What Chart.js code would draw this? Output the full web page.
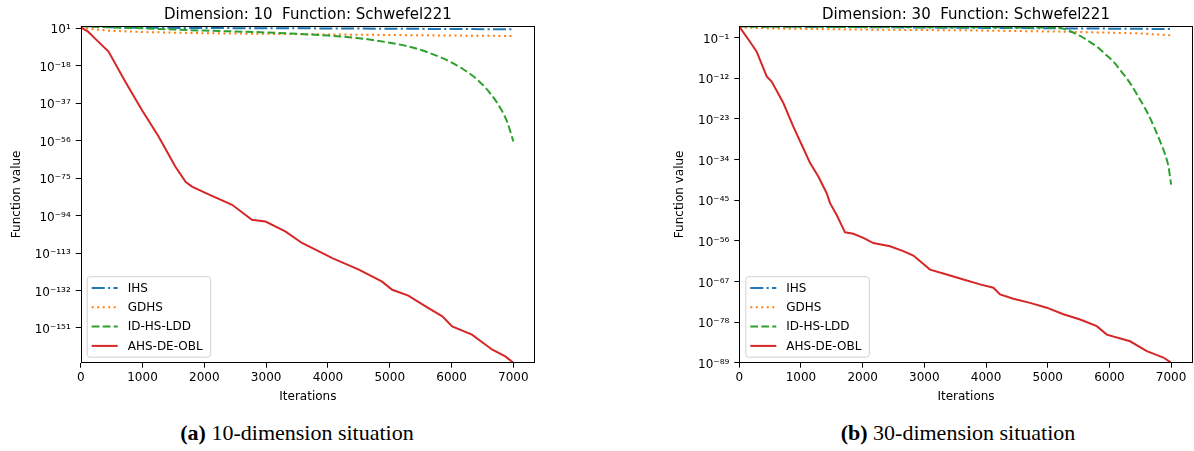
<!DOCTYPE html>
<html>
<head>
<meta charset="utf-8">
<script src="https://cdn.jsdelivr.net/npm/chart.js@4.4.0/dist/chart.umd.min.js"></script>
<style>
  body { margin: 0; background: #fff; }
  #wrap { position: relative; width: 1194px; height: 451px; background: #fff; overflow: hidden; }
  canvas { position: absolute; top: 0; }
  .cap { position: absolute; top: 421px; width: 400px; text-align: center; font-family: "Liberation Serif", serif; font-size: 22px; line-height: 24px; color: #000; }
</style>
</head>
<body>
<div id="wrap">
  <canvas id="chart10" width="545" height="410" style="left:0px"></canvas>
  <canvas id="chart30" width="534" height="410" style="left:660px"></canvas>
  <div class="cap" style="left:97px"><b>(a)</b> 10-dimension situation</div>
  <div class="cap" style="left:758px"><b>(b)</b> 30-dimension situation</div>
</div>
<script>
// Series names and tick labels
var seriesNames = ["IHS", "GDHS", "ID-HS-LDD", "AHS-DE-OBL"];
var xTicks = [0, 1000, 2000, 3000, 4000, 5000, 6000, 7000];
var yTicks10 = [1e1, 1e-18, 1e-37, 1e-56, 1e-75, 1e-94, 1e-113, 1e-132, 1e-151];
var yTicks30 = [1e-1, 1e-12, 1e-23, 1e-34, 1e-45, 1e-56, 1e-67, 1e-78, 1e-89];

// Dimension 10
var ihs10It = [0, 500, 1000, 2000, 3000, 4000, 5000, 6000, 7000];
var ihs10Val = [140, 32, 20, 14, 11, 9, 6.3, 4.5, 3.2];
var gdhs10It = [0, 100, 230, 450, 1000, 2000, 3000, 4000, 5000, 6000, 7000];
var gdhs10Val = [32, 10, 3.2, 0.63, 0.13, 0.032, 0.016, 7.9e-3, 4e-3, 2.2e-3, 1.3e-3];
var ldd10It = [0, 500, 1000, 1500, 2000, 2500, 3000, 3500, 4000, 4500, 5000, 5300, 5600, 5900, 6200, 6400, 6600, 6800, 6900, 7000];
var ldd10Val = [100, 32, 10, 2.5, 0.7, 0.25, 0.08, 0.016, 2e-3, 1e-4, 5e-7, 6.3e-9, 1e-11, 1.6e-15, 1e-20, 2.5e-25, 1e-31, 1e-40, 3.2e-47, 4e-57];
var obl10It = [0, 120, 230, 450, 720, 990, 1260, 1530, 1700, 1800, 2070, 2450, 2770, 2990, 3310, 3580, 3960, 4070, 4500, 4870, 5040, 5300, 5580, 5850, 6010, 6330, 6660, 6870, 7000];
var obl10Val = [32, 0.2, 7.9e-5, 1.6e-11, 1e-26, 4e-41, 1.3e-54, 7.9e-70, 1e-77, 5e-80, 6.3e-84, 3.2e-89, 7.9e-97, 1e-97, 1e-102, 1.3e-108, 1.6e-114, 2.5e-116, 4e-122, 4e-128, 2.5e-132, 2.5e-135, 1e-140, 7.9e-146, 6.3e-151, 4e-155, 1e-162, 4e-166, 2.5e-169];

// Dimension 30
var ihs30It = [0, 1000, 2000, 3000, 4000, 5000, 6000, 7000];
var ihs30Val = [126, 89, 71, 56, 45, 35, 28, 22];
var gdhs30It = [0, 500, 1500, 2500, 3600, 4500, 5250, 6050, 6500, 6900, 7000];
var gdhs30Val = [63, 32, 19, 13, 10, 6.3, 4.2, 2.2, 1.4, 0.54, 0.45];
var ldd30It = [0, 1000, 2000, 3000, 4000, 5000, 5200, 5350, 5525, 5660, 5795, 5930, 6065, 6200, 6335, 6470, 6606, 6720, 6822, 6900, 6957, 7000];
var ldd30Val = [100, 89, 79, 71, 63, 56, 40, 6.3, 0.29, 1.26e-2, 4e-4, 4e-6, 3.2e-8, 5e-11, 5e-14, 1e-17, 1e-21, 1e-25, 7.9e-30, 3.2e-33, 1.3e-36, 1.6e-41];
var obl30It = [0, 173, 282, 444, 525, 714, 876, 1011, 1146, 1281, 1417, 1471, 1579, 1714, 1849, 2011, 2173, 2444, 2659, 2822, 3092, 3363, 3633, 3903, 4119, 4227, 4443, 4714, 4984, 5254, 5525, 5795, 5957, 6335, 6606, 6876, 7000];
var obl30Val = [100, 7.9e-3, 1.6e-5, 3.2e-12, 1.3e-13, 2e-19, 7.9e-26, 1e-30, 1.3e-35, 2.5e-39, 7.9e-44, 1.6e-46, 1e-49, 2e-54, 7.9e-55, 6.3e-56, 2.5e-57, 3.2e-58, 1.6e-59, 1e-60, 1.6e-64, 7.9e-66, 3.2e-67, 1.6e-68, 2e-69, 3.2e-71, 2e-72, 1.6e-73, 7.9e-75, 1.3e-76, 5e-78, 7.9e-80, 4e-82, 6.3e-84, 1.3e-86, 2.5e-88, 1e-89];

// Styles (matplotlib defaults)
var seriesColors = ["#1f77b4", "#ff7f0e", "#2ca02c", "#d62728"];
var seriesDash = [[13, 3.3, 2.1, 3.3], [2, 3.5], [7.7, 3.3], []];

Chart.defaults.font.family = '"DejaVu Sans", sans-serif';
Chart.defaults.font.size = 12;
Chart.defaults.color = "#000";

var supMap = { "0": "⁰", "1": "¹", "2": "²", "3": "³", "4": "⁴", "5": "⁵", "6": "⁶", "7": "⁷", "8": "⁸", "9": "⁹", "-": "⁻" };
function powLabel(v) {
  var e = String(Math.round(Math.log10(v)));
  return "10" + e.split("").map(function (c) { return supMap[c]; }).join("");
}

function toPoints(its, vals) {
  return its.map(function (x, i) { return { x: x, y: vals[i] }; });
}

// Frame, title and legend drawn like matplotlib
var mplDecor = {
  id: "mplDecor",
  afterDraw: function (chart, args, opts) {
    var ctx = chart.ctx;
    var a = chart.chartArea;
    ctx.save();
    // spines
    ctx.strokeStyle = "#000";
    ctx.lineWidth = 1;
    var l = Math.round(a.left) + 0.5, t = Math.round(a.top) + 0.5;
    var r = Math.round(a.right) - 0.5, b = Math.round(a.bottom) - 0.5;
    ctx.strokeRect(l, t, r - l, b - t);
    // title
    ctx.fillStyle = "#000";
    ctx.font = '15px "DejaVu Sans"';
    ctx.textAlign = "center";
    ctx.textBaseline = "middle";
    ctx.fillText(opts.text, (a.left + a.right) / 2, 15);
    // legend box
    var bw = 123.5, bh = 80.5;
    var bx = a.left + 6.5, by = a.bottom - 5.5 - bh;
    ctx.beginPath();
    if (ctx.roundRect) ctx.roundRect(bx, by, bw, bh, 3); else ctx.rect(bx, by, bw, bh);
    ctx.fillStyle = "rgba(255,255,255,0.8)";
    ctx.fill();
    ctx.strokeStyle = "#d0d0d0";
    ctx.stroke();
    chart.data.datasets.forEach(function (ds, i) {
      var y = by + 11.3 + i * 19.3;
      ctx.beginPath();
      ctx.setLineDash(ds.borderDash || []);
      ctx.strokeStyle = ds.borderColor;
      ctx.lineWidth = 2;
      ctx.moveTo(bx + 4.5, y);
      ctx.lineTo(bx + 30.5, y);
      ctx.stroke();
      ctx.setLineDash([]);
      ctx.fillStyle = "#000";
      ctx.font = '12px "DejaVu Sans"';
      ctx.textAlign = "left";
      ctx.textBaseline = "middle";
      ctx.fillText(ds.label, bx + 40.5, y + 0.5);
    });
    ctx.restore();
  }
};

function makeChart(id, title, series, yTicks, yMin, yMax, yWidth, padRight, yTitlePad) {
  var ctx = document.getElementById(id).getContext("2d");
  var datasets = series.map(function (s, i) {
    return {
      label: seriesNames[i],
      data: toPoints(s[0], s[1]),
      borderColor: seriesColors[i],
      backgroundColor: seriesColors[i],
      borderDash: seriesDash[i],
      borderWidth: 2,
      borderCapStyle: "butt",
      pointRadius: 0,
      fill: false,
      order: 3 - i,
      cubicInterpolationMode: i === 2 ? "monotone" : "default"
    };
  });
  return new Chart(ctx, {
    type: "line",
    data: { datasets: datasets },
    options: {
      responsive: false,
      animation: false,
      events: [],
      layout: { padding: { top: 26, right: padRight, bottom: 0, left: 0 } },
      plugins: {
        legend: { display: false },
        tooltip: { enabled: false },
        mplDecor: { text: title }
      },
      scales: {
        x: {
          type: "linear",
          min: 0,
          max: 7350,
          bounds: "data",
          afterBuildTicks: function (scale) {
            scale.ticks = xTicks.map(function (v) { return { value: v }; });
          },
          afterFit: function (scale) { scale.height = 47.3; },
          ticks: {
            autoSkip: false,
            maxRotation: 0,
            padding: 3,
            color: "#000",
            callback: function (v) { return String(v); }
          },
          grid: { drawOnChartArea: false, drawTicks: true, tickLength: 5, tickColor: "#000", tickWidth: 1 },
          border: { display: false },
          title: { display: true, text: "Iterations", color: "#000", padding: { top: 0, bottom: 6.1 } }
        },
        y: {
          type: "logarithmic",
          min: yMin,
          max: yMax,
          bounds: "data",
          afterBuildTicks: function (scale) {
            scale.ticks = yTicks.map(function (v) { return { value: v }; });
          },
          afterFit: function (scale) { scale.width = yWidth; },
          ticks: {
            autoSkip: false,
            padding: 5,
            labelOffset: 2,
            color: "#000",
            callback: function (v) { return powLabel(v); }
          },
          grid: { drawOnChartArea: false, drawTicks: true, tickLength: 5, tickColor: "#000", tickWidth: 1 },
          border: { display: false },
          title: { display: true, text: "Function value", color: "#000", padding: { top: yTitlePad, bottom: 0 } }
        }
      }
    },
    plugins: [mplDecor]
  });
}

makeChart("chart10", "Dimension: 10  Function: Schwefel221",
  [[ihs10It, ihs10Val], [gdhs10It, gdhs10Val], [ldd10It, ldd10Val], [obl10It, obl10Val]],
  yTicks10, 2.5e-169, 1.5e2, 80.7, 10, 9.8);

makeChart("chart30", "Dimension: 30  Function: Schwefel221",
  [[ihs30It, ihs30Val], [gdhs30It, gdhs30Val], [ldd30It, ldd30Val], [obl30It, obl30Val]],
  yTicks30, 1e-89, 1.45e2, 79.3, 1.3, 12.8);
</script>
</body>
</html>
